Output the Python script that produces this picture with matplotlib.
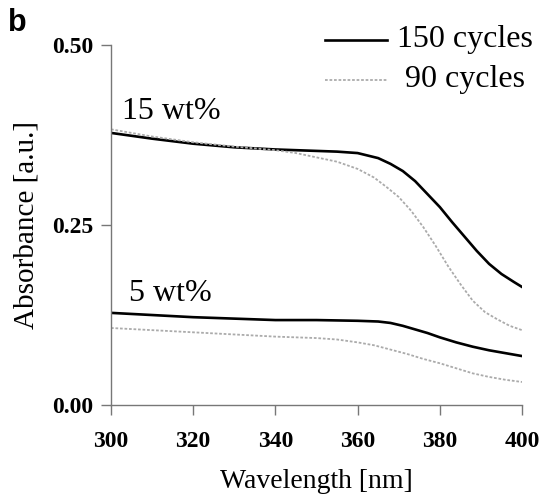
import matplotlib
matplotlib.use("Agg")
import matplotlib.pyplot as plt
from matplotlib.lines import Line2D

wl_15_150 = [300, 310, 320, 330, 340, 350, 355, 360, 365, 368, 371, 374, 377, 380, 383, 386, 389, 392, 395, 398, 400]
ab_15_150 = [0.378, 0.370, 0.363, 0.358, 0.355, 0.353, 0.352, 0.350, 0.343, 0.335, 0.325, 0.311, 0.293, 0.275, 0.254, 0.234, 0.214, 0.196, 0.182, 0.171, 0.164]

wl_15_90 = [300, 310, 320, 330, 340, 345, 350, 355, 360, 364, 367, 370, 373, 376, 379, 382, 385, 388, 391, 394, 397, 400]
ab_15_90 = [0.383, 0.373, 0.365, 0.359, 0.354, 0.350, 0.344, 0.338, 0.328, 0.316, 0.303, 0.289, 0.270, 0.247, 0.221, 0.193, 0.168, 0.145, 0.129, 0.119, 0.110, 0.104]

wl_5_150 = [300, 310, 320, 330, 340, 350, 360, 365, 368, 371, 374, 377, 380, 384, 388, 392, 396, 400]
ab_5_150 = [0.128, 0.125, 0.122, 0.120, 0.118, 0.118, 0.117, 0.116, 0.114, 0.110, 0.105, 0.100, 0.094, 0.087, 0.081, 0.076, 0.072, 0.068]

wl_5_90 = [300, 310, 320, 330, 340, 350, 355, 360, 364, 368, 372, 376, 380, 384, 388, 392, 396, 400]
ab_5_90 = [0.107, 0.104, 0.101, 0.098, 0.095, 0.093, 0.091, 0.087, 0.083, 0.077, 0.071, 0.064, 0.058, 0.051, 0.044, 0.039, 0.035, 0.032]

x_ticks = [300, 320, 340, 360, 380, 400]
y_ticks = [0.00, 0.25, 0.50]
series_labels = ["150 cycles", "90 cycles"]

plt.rcParams['font.family'] = ['Liberation Serif', 'DejaVu Serif']

fig = plt.figure(figsize=(5.44, 5.01), dpi=100)
ax = fig.add_axes([0.204, 0.1916, 0.7556, 0.7184])

black_kw = dict(color='black', lw=1.9)
gray_kw = dict(color='#ababab', lw=1.3, linestyle=(0, (1.5, 1)))

ax.plot(wl_15_150, ab_15_150, **black_kw)
ax.plot(wl_15_90, ab_15_90, **gray_kw)
ax.plot(wl_5_150, ab_5_150, **black_kw)
ax.plot(wl_5_90, ab_5_90, **gray_kw)

ax.set_xlim(300, 400)
ax.set_ylim(0, 0.5)
ax.set_xticks(x_ticks)
ax.set_yticks(y_ticks)
ax.set_xticklabels([str(t) for t in x_ticks], fontweight='bold', fontsize=17)
ax.set_yticklabels([f"{t:.2f}" for t in y_ticks], fontweight='bold', fontsize=17)
for s in ['top', 'right']:
    ax.spines[s].set_visible(False)
for s in ['left', 'bottom']:
    ax.spines[s].set_color('#777777')
    ax.spines[s].set_linewidth(1.0)
ax.tick_params(axis='x', direction='out', length=7, width=1.0, color='#777777', pad=12)
ax.tick_params(axis='y', direction='out', length=7, width=1.0, color='#777777', pad=6)

ax.set_xlabel("Wavelength [nm]", fontsize=20, labelpad=12)
ax.set_ylabel("Absorbance [a.u.]", fontsize=21, labelpad=9)

ax.text(0.027, 0.815, "15 wt%", transform=ax.transAxes, fontsize=23, va='center', ha='left')
ax.text(0.045, 0.31, "5 wt%", transform=ax.transAxes, fontsize=23, va='center', ha='left')

# legend drawn manually in figure pixel fractions
W, H = 544.0, 501.0
leg_rows = [40, 80]
leg_styles = [black_kw, gray_kw]
for lab, yrow, st in zip(series_labels, leg_rows, leg_styles):
    fig.add_artist(Line2D([325 / W, 387 / W], [1 - yrow / H, 1 - yrow / H], transform=fig.transFigure, **st))
    fig.text(465 / W, 1 - yrow / H, lab, fontsize=23, ha='center', va='center')

fig.text(0.014, 0.985, "b", fontsize=22, fontweight='bold', family='Liberation Sans', va='top', ha='left')

fig.savefig("out.png", dpi=100)
